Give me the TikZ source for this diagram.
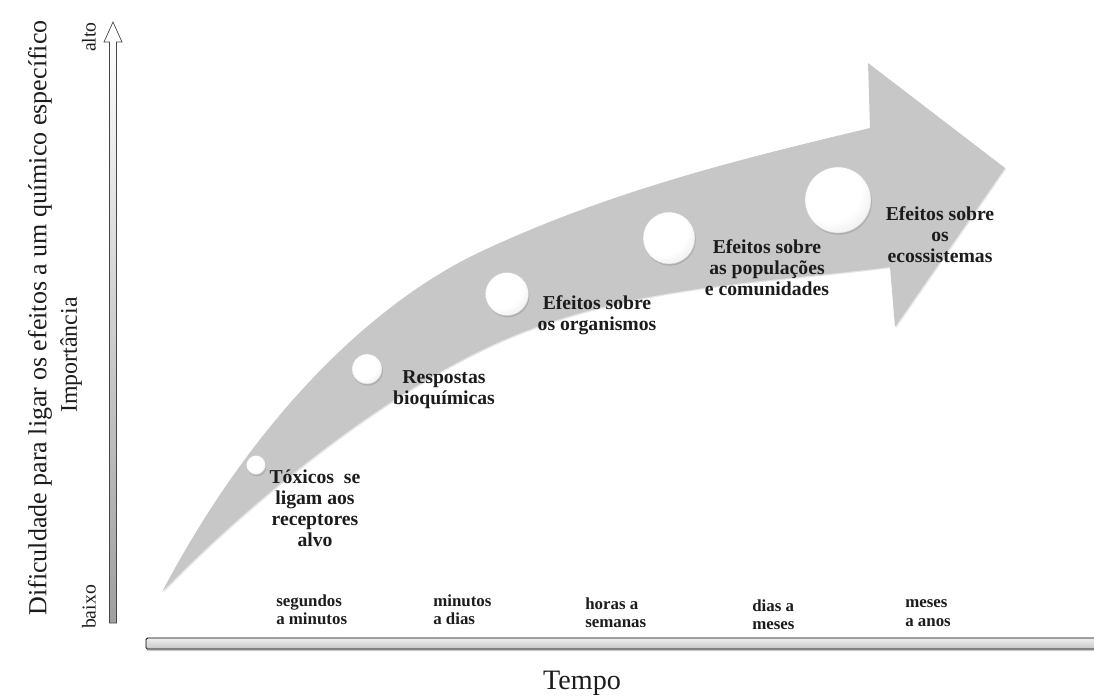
\documentclass[tikz,border=0pt]{standalone}
\usepackage{fontspec}
\setmainfont{Liberation Serif}
\usetikzlibrary{positioning, shadows}

\definecolor{bandgray}{RGB}{199,199,199}
\definecolor{inkgray}{RGB}{28,28,28}

\pgfdeclareradialshading{bubbleshade}{\pgfpoint{-10bp}{12bp}}{%
  color(0bp)=(white); color(24bp)=(white); color(36bp)=(gray!15);
  color(48bp)=(gray!45); color(70bp)=(gray!55)}

\begin{document}
\begin{tikzpicture}[x=0.025cm, y=-0.025cm,
    every node/.style={font=\fontsize{14}{15}\selectfont\bfseries, text=inkgray},
    bubble/.style={circle, shade, shading=bubbleshade, draw=gray!40, line width=0.3pt,
      inner sep=0pt, drop shadow={shadow xshift=0.6pt, shadow yshift=-1.2pt, opacity=0.35}},
    stage/.style={align=center, inner sep=1pt},
    span/.style={align=left, anchor=west, inner sep=0pt, font=\fontsize{12}{13}\selectfont\bfseries},
    axislabel/.style={font=\fontsize{14}{15}\selectfont, rotate=90}
]
\useasboundingbox (0,0) rectangle (1094,699);

% Big curved arrow
\fill[bandgray, drop shadow={shadow xshift=0.8pt, shadow yshift=-0.8pt, opacity=0.2}]
  (162,592) .. controls (252,421) and (370,304) .. (480,252)
  .. controls (610,191) and (740,159) .. (870,128)
  -- (868,63) -- (1005,168) -- (895,327) -- (890,267)
  .. controls (765,283) and (638,285) .. (513,336)
  .. controls (393,385) and (252,499) .. (162,592)
  -- cycle;

% Vertical axis
\coordinate (vlow) at (113,623);
\coordinate (vhigh) at (113,22);
\draw[gray!55!black, line width=0.5pt, top color=white, bottom color=gray!75]
  (109.5,623) -- (109.5,42) -- (104,42) -- (vhigh) -- (122,42) -- (116.5,42) -- (116.5,623) -- cycle;
\node[axislabel] (alto) at (89,37) {alto};
\node[axislabel] (baixo) at (89,607) {baixo};
\node[axislabel, font=\fontsize{17}{18}\selectfont] (imp) at (71,355) {Importância};
\node[axislabel, font=\fontsize{18.5}{19}\selectfont] (dific) at (40,318)
  {Dificuldade para ligar os efeitos a um químico específico};

% Horizontal axis
\draw[black, line width=0.6pt, top color=gray!12, bottom color=gray!45, rounded corners=1pt,
  drop shadow={shadow xshift=0.5pt, shadow yshift=-1.5pt, opacity=0.4}]
  (146,638) rectangle (1110,649);
\node[font=\fontsize{20}{22}\selectfont] (tempo) at (582,683) {Tempo};

% Bubbles
\node[bubble, minimum size=0.48cm] (b1) at (256,465) {};
\node[bubble, minimum size=0.75cm] (b2) at (367,369) {};
\node[bubble, minimum size=1.08cm] (b3) at (507,294) {};
\node[bubble, minimum size=1.30cm] (b4) at (669,238) {};
\node[bubble, minimum size=1.65cm] (b5) at (838,200) {};

% Stage labels
\node[stage] (s1) at (315,508) {Tóxicos\ \ se\\ligam aos\\receptores\\alvo};
\node[stage] (s2) at (444,390) {Respostas\\bioquímicas};
\node[stage] (s3) at (597,315) {Efeitos sobre\\os organismos};
\node[stage] (s4) at (767,268) {Efeitos sobre\\as populações\\e comunidades};
\node[stage] (s5) at (940,235) {Efeitos sobre\\os\\ecossistemas};

% Time spans
\node[span] (p1) at (276,610) {segundos\\a minutos};
\node[span] (p2) at (433,610) {minutos\\a dias};
\node[span] (p3) at (585,613) {horas a\\semanas};
\node[span] (p4) at (752,615) {dias a\\meses};
\node[span] (p5) at (905,613) {meses\\a anos};

\end{tikzpicture}
\end{document}
